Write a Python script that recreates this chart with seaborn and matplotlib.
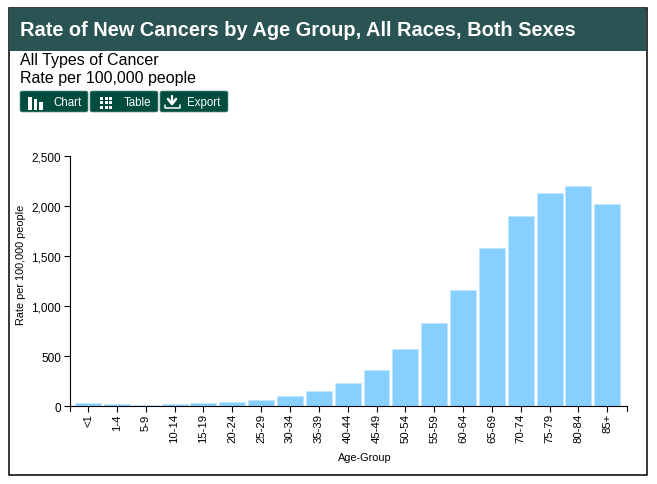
import matplotlib
matplotlib.use('Agg')
import matplotlib.pyplot as plt
from matplotlib.patches import FancyBboxPatch, Rectangle
import pandas as pd
import seaborn as sns

sns.set_theme(style='white')
plt.rcParams['font.family'] = ['Liberation Sans', 'DejaVu Sans']

age_groups = ['<1', '1-4', '5-9', '10-14', '15-19', '20-24', '25-29', '30-34', '35-39', '40-44',
              '45-49', '50-54', '55-59', '60-64', '65-69', '70-74', '75-79', '80-84', '85+']
rates = [33, 25, 17, 18, 28, 42, 65, 105, 150, 235,
         360, 570, 835, 1165, 1580, 1905, 2135, 2205, 2025]
y_ticks = [0, 500, 1000, 1500, 2000, 2500]
buttons = ['Chart', 'Table', 'Export']

W, H = 657, 485
HEADER = '#2a5353'
BTN = '#004d40'

fig = plt.figure(figsize=(W / 100, H / 100), dpi=100)

# overlay in pixel coords for the page furniture
page = fig.add_axes([0, 0, 1, 1], zorder=0)
page.set_xlim(0, W)
page.set_ylim(H, 0)
page.axis('off')
page.add_patch(Rectangle((8.5, 8.5), 638, 467.5, fc='white', ec='black', lw=1.1))
page.add_patch(Rectangle((9, 9), 637, 43, fc=HEADER, ec='none'))
page.text(20, 31, 'Rate of New Cancers by Age Group, All Races, Both Sexes', color='white',
          fontsize=14.45, fontweight='bold', va='center')
page.text(20.5, 61, 'All Types of Cancer', fontsize=11.5, color='black', va='center')
page.text(20.5, 79, 'Rate per 100,000 people', fontsize=11.5, color='black', va='center')


def draw_button(x0, x1, label, text_x):
    page.add_patch(FancyBboxPatch((x0 + 2, 94), x1 - x0 - 4, 17, boxstyle='round,pad=2',
                                  fc=BTN, ec='#6f9a92', lw=0.5))
    page.text(text_x, 103, label, color='white', fontsize=8.3, va='center')


draw_button(20, 88, buttons[0], 53)
draw_button(90, 158, buttons[1], 124)
draw_button(160, 228, buttons[2], 187)

# chart icon
for x, top, w in [(28, 98, 4), (34, 100, 3), (39, 103, 4)]:
    page.add_patch(Rectangle((x, top), w, 111 - top, fc='white', ec='none'))
# table icon
for x in [100, 104.5, 109]:
    for y in [97.5, 102, 106.5]:
        page.add_patch(Rectangle((x, y), 3, 3, fc='white', ec='none'))
# export icon
page.plot([172, 172], [97, 103], color='white', lw=1.6)
page.plot([168, 172, 176], [100, 105, 100], color='white', lw=1.8)
page.plot([164.5, 164.5, 179.5, 179.5], [106, 109, 109, 106], color='white', lw=1.1)

# chart area
x_left, x_right = 69.5, 627
y_top, y_zero = 157, 407.3
ax = fig.add_axes([x_left / W, 1 - y_zero / H, (x_right - x_left) / W, (y_zero - y_top) / H], zorder=1)
ax.patch.set_alpha(0)

df = pd.DataFrame({'age': age_groups, 'rate': rates})
sns.barplot(data=df, x='age', y='rate', color='#87cfff', saturation=1, width=0.9,
            edgecolor='#c4e7ff', linewidth=0.5, ax=ax)

ax.set_xlim((x_left - 88) / 28.85, (x_right - 88) / 28.85)
ax.set_ylim(0, 2500)
ax.set_yticks(y_ticks)
ax.set_yticklabels([f'{v:,}' for v in y_ticks], fontsize=8.5, color='black')
ax.tick_params(axis='y', left=True, length=4, width=0.8, color='black', pad=2)
ax.tick_params(axis='x', bottom=True, length=4, width=0.8, color='black', pad=1)
ax.set_xticks(range(len(age_groups)))
ax.set_xticklabels(age_groups, rotation=90, fontsize=8.2, color='black')
ax.set_xlabel('')
ax.set_ylabel('')
sns.despine(ax=ax)
for side in ['left', 'bottom']:
    ax.spines[side].set_color('black')
    ax.spines[side].set_linewidth(0.8)

# outer ticks of the axes
page.plot([x_left, x_left], [y_zero, y_zero + 5], color='black', lw=0.8)
page.plot([x_right, x_right], [y_zero, y_zero + 5], color='black', lw=0.8)

page.text(21, 264.5, 'Rate per 100,000 people', rotation=90, fontsize=7.8, ha='center', va='center', color='black')
page.text(364.5, 458, 'Age-Group', fontsize=7.8, ha='center', va='center', color='black')

fig.savefig('out.png', dpi=100)
